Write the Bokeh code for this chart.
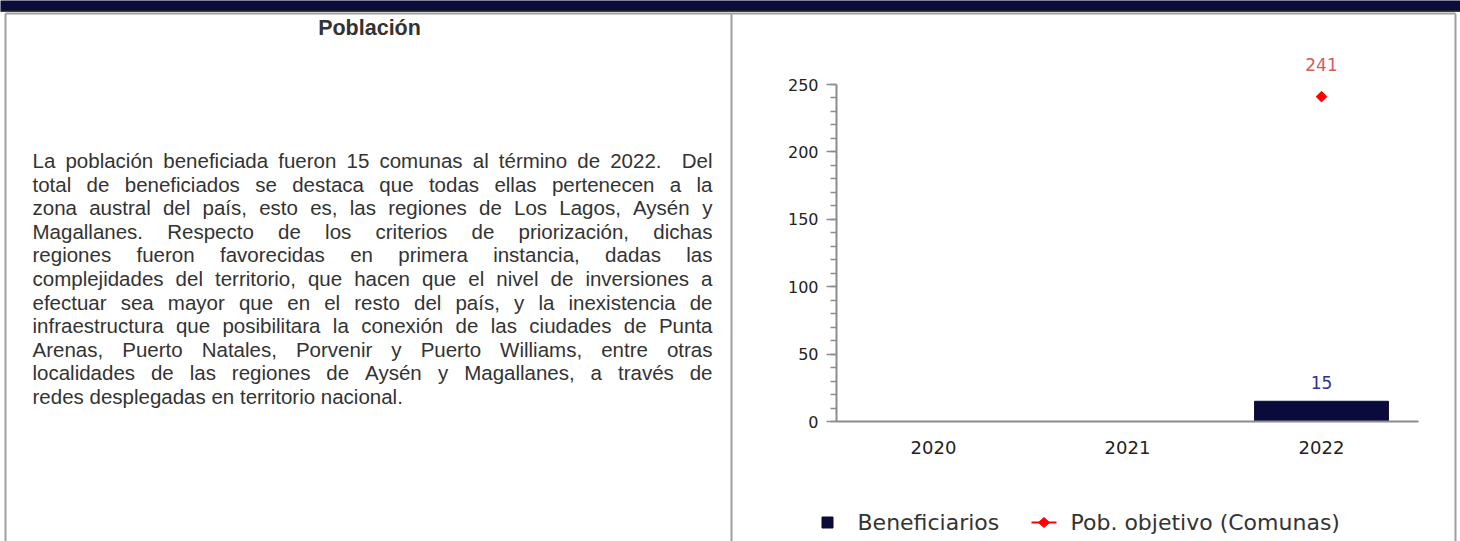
import math
from bokeh.plotting import figure
from bokeh.models import FactorRange, Range1d, ColumnDataSource, SingleIntervalTicker
from bokeh.core.properties import value
from bokeh.embed import file_html
from bokeh.resources import INLINE

# ---------------- data ----------------
years = ["2020", "2021", "2022"]
beneficiarios = [None, None, 15]
pob_objetivo = [None, None, 241]
y_max = 250
y_step = 50
series_names = ["Beneficiarios", "Pob. objetivo (Comunas)"]
section_title = "Población"
paragraph_lines = [
    "La población beneficiada fueron 15 comunas al término de 2022.  Del",
    "total de beneficiados se destaca que todas ellas pertenecen a la",
    "zona austral del país, esto es, las regiones de Los Lagos, Aysén y",
    "Magallanes. Respecto de los criterios de priorización, dichas",
    "regiones fueron favorecidas en primera instancia, dadas las",
    "complejidades del territorio, que hacen que el nivel de inversiones a",
    "efectuar sea mayor que en el resto del país, y la inexistencia de",
    "infraestructura que posibilitara la conexión de las ciudades de Punta",
    "Arenas, Puerto Natales, Porvenir y Puerto Williams, entre otras",
    "localidades de las regiones de Aysén y Magallanes, a través de",
    "redes desplegadas en territorio nacional.",
]

# ---------------- style ----------------
NAVY = "#0b0b3b"
RED = "#ff0000"
GREY = "#a0a0a0"
TXT = "#333333"
CHART_FONT = value("DejaVu Sans")
PARA_FONT = value("Liberation Sans")
PARA_SIZE = 20.5

W, H = 1460, 541
FL, FR, FT, FB = 836, 1418, 84, 421   # frame edges in window pixels
NCAT = len(years)


def sx(px):
    """window pixel x -> synthetic categorical coordinate"""
    return (px - FL) / ((FR - FL) / NCAT)


def nan(v):
    return float("nan") if v is None else v


# Liberation Sans advance widths (1/1000 em)
AW = {" ": 278, ",": 278, ".": 278, "(": 333, ")": 333}
for c in "0123456789":
    AW[c] = 556
AW.update(dict(A=667, B=667, C=722, D=722, E=667, F=611, G=778, H=722, I=278, J=500, K=667,
               L=556, M=833, N=722, O=778, P=667, Q=778, R=722, S=667, T=611, U=722, V=667,
               W=944, X=667, Y=667, Z=611))
AW.update(dict(a=556, b=556, c=500, d=556, e=556, f=278, g=556, h=556, i=222, j=222, k=500,
               l=222, m=833, n=556, o=556, p=556, q=556, r=333, s=500, t=278, u=556, v=500,
               w=722, x=500, y=500, z=500))
AW.update({"á": 556, "é": 556, "í": 278, "ó": 556, "ú": 556, "ñ": 556})


def wtext(s, size):
    return sum(AW.get(ch, 556) for ch in s) * size / 1000.0


# ---------------- figure ----------------
p = figure(width=W, height=H, x_range=FactorRange(factors=years), y_range=Range1d(0, y_max),
           output_backend="svg", toolbar_location=None, title=None,
           min_border_left=FL, min_border_right=W - FR,
           min_border_top=FT, min_border_bottom=H - FB)
p.extra_y_ranges = {"px": Range1d(FB, FT)}
p.outline_line_color = None
p.xgrid.visible = False
p.ygrid.visible = False
p.background_fill_color = "white"
p.border_fill_color = "white"

# ---- page decoration (window-pixel coordinates) ----
deco = dict(y_range_name="px", level="overlay")
p.quad(left=[sx(0)], right=[sx(1460)], top=[0], bottom=[10], fill_color="#0a0c3a",
       line_color=None, **deco)
p.segment(x0=[sx(0)], y0=[10.5], x1=[sx(1460)], y1=[10.5], line_color="#000000",
          line_width=1.5, **deco)
p.segment(x0=[sx(v) for v in (5, 5, 731, 1455)], y0=[13, 13, 13, 13],
          x1=[sx(v) for v in (1455, 5, 731, 1455)], y1=[13, 541, 541, 541],
          line_color=GREY, line_width=2, **deco)

p.text(x=[sx(369)], y=[27], text=[section_title], text_align="center", text_baseline="middle",
       text_font=PARA_FONT, text_font_style="bold", text_font_size=value("21.5px"),
       text_color=TXT, **deco)

# justified paragraph (a double space counts as two gaps)
X0, X1 = 32, 712
Y0, DY = 160, 23.6
lx, ly, lt, rx, ry, rt = [], [], [], [], [], []
for i, line in enumerate(paragraph_lines):
    y = Y0 + i * DY
    if i == len(paragraph_lines) - 1:
        lx.append(sx(X0)); ly.append(y); lt.append(" ".join(line.split()))
        continue
    tokens = line.split(" ")
    widths = [wtext(t, PARA_SIZE) for t in tokens]
    gap = (X1 - X0 - sum(widths)) / (len(tokens) - 1)
    x = X0
    for j, t in enumerate(tokens):
        if t:
            if j == len(tokens) - 1:
                rx.append(sx(X1)); ry.append(y); rt.append(t)
            else:
                lx.append(sx(x)); ly.append(y); lt.append(t)
        x += widths[j] + gap

ptxt = dict(text_baseline="middle", text_font=PARA_FONT, text_font_size=value(f"{PARA_SIZE}px"),
            text_color=TXT, **deco)
p.text(x=lx, y=ly, text=lt, text_align="left", **ptxt)
p.text(x=rx, y=ry, text=rt, text_align="right", **ptxt)

# ---------------- chart ----------------
src = ColumnDataSource(data=dict(year=years,
                                 ben=[nan(v) for v in beneficiarios],
                                 pob=[nan(v) for v in pob_objetivo]))
p.vbar(x="year", top="ben", width=0.69, bottom=0, source=src, fill_color=NAVY, line_color=NAVY)
p.line(x="year", y="pob", source=src, line_color=RED, line_width=2)
p.scatter(x="year", y="pob", source=src, marker="square", angle=math.pi / 4,
          size=7.5, fill_color=RED, line_color=RED)

ben_lbl = ColumnDataSource(data=dict(
    year=[y for y, v in zip(years, beneficiarios) if v is not None],
    v=[v for v in beneficiarios if v is not None],
    t=[str(v) for v in beneficiarios if v is not None]))
pob_lbl = ColumnDataSource(data=dict(
    year=[y for y, v in zip(years, pob_objetivo) if v is not None],
    v=[v for v in pob_objetivo if v is not None],
    t=[str(v) for v in pob_objetivo if v is not None]))
p.text(x="year", y="v", text="t", source=ben_lbl, y_offset=-19, text_align="center",
       text_baseline="middle", text_font=CHART_FONT, text_font_size=value("17px"),
       text_color="#30309a")
p.text(x="year", y="v", text="t", source=pob_lbl, y_offset=-32, text_align="center",
       text_baseline="middle", text_font=CHART_FONT, text_font_size=value("17px"),
       text_color="#d65a5a", level="overlay")

# ---- legend (drawn below the chart) ----
LEG_Y = 522
p.quad(left=[sx(821.5)], right=[sx(832.5)], top=[LEG_Y - 5.5], bottom=[LEG_Y + 5.5],
       fill_color=NAVY, line_color=NAVY, **deco)
p.segment(x0=[sx(1031)], y0=[LEG_Y], x1=[sx(1056)], y1=[LEG_Y], line_color=RED,
          line_width=2, **deco)
p.patch(x=[sx(1043.5), sx(1049), sx(1043.5), sx(1038)],
        y=[LEG_Y - 5, LEG_Y, LEG_Y + 5, LEG_Y],
        fill_color=RED, line_color=RED, **deco)
p.text(x=[sx(857), sx(1070)], y=[LEG_Y, LEG_Y], text=series_names, text_align="left",
       text_baseline="middle", text_font=CHART_FONT, text_font_size=value("22px"),
       text_color=TXT, **deco)

# axes
ya = p.yaxis[0]
ya.ticker = SingleIntervalTicker(interval=y_step, num_minor_ticks=5)
ya.axis_line_color = "#8c8c8c"
ya.axis_line_width = 2
ya.major_tick_line_color = "#8c8c8c"
ya.major_tick_line_width = 1.5
ya.minor_tick_line_color = "#8c8c8c"
ya.minor_tick_line_width = 1.5
ya.major_tick_in = 0
ya.major_tick_out = 10
ya.minor_tick_in = 0
ya.minor_tick_out = 6
ya.major_label_standoff = 8
ya.major_label_text_font = "DejaVu Sans"
ya.major_label_text_font_size = "16px"
ya.major_label_text_color = "#222222"

xa = p.xaxis[0]
xa.axis_line_color = "#8c8c8c"
xa.axis_line_width = 2
xa.major_tick_line_color = None
xa.minor_tick_line_color = None
xa.major_tick_in = 0
xa.major_tick_out = 0
xa.major_label_standoff = 19
xa.major_label_text_font = "DejaVu Sans"
xa.major_label_text_font_size = "18px"
xa.major_label_text_color = "#222222"

open("out.html", "w").write(file_html(p, INLINE))
